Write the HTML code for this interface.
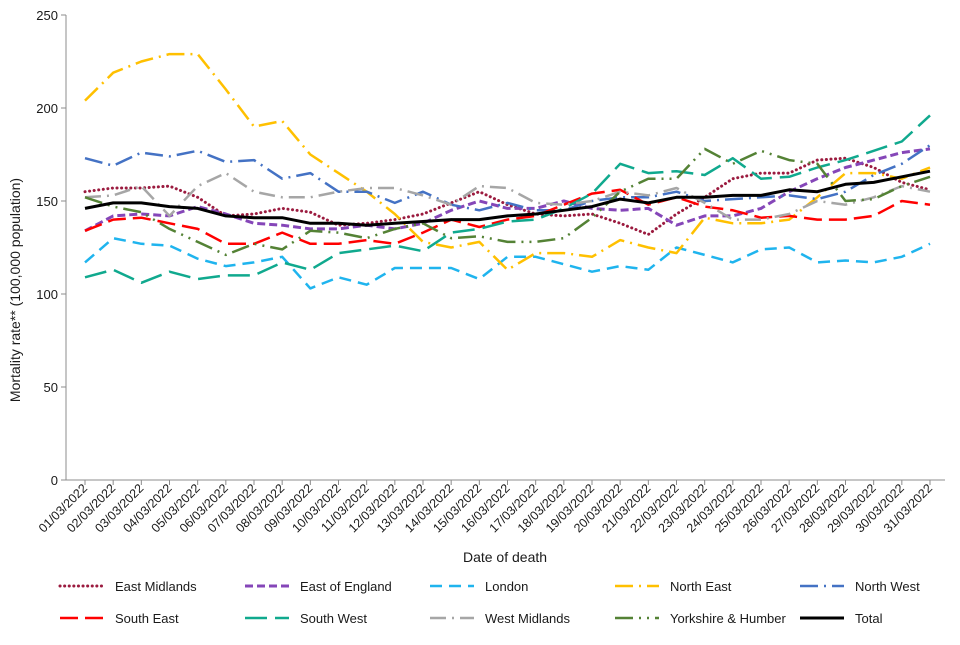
<!DOCTYPE html>
<html><head><meta charset="utf-8"><style>
body{margin:0;background:#fff;font-family:"Liberation Sans",Arial,sans-serif}
svg text{font-family:"Liberation Sans",Arial,sans-serif;fill:#1a1a1a}
</style></head><body>
<svg id="chart" width="960" height="640" viewBox="0 0 960 640"></svg>
<script>
const categories=[];for(let d=1;d<=31;d++)categories.push((d<10?'0':'')+d+'/03/2022');
const yTicks=[0,50,100,150,200,250];
const eastMidlands=[155,157,157,158,152,142,143,146,144,137,138,140,143,149,155,148,143,142,143,138,132,143,152,162,165,165,172,173,168,160,156];
const eastOfEngland=[134,142,143,142,147,143,138,137,135,135,137,135,138,145,150,146,146,150,146,145,146,137,142,142,146,155,162,168,172,176,178];
const london=[117,130,127,126,119,115,117,120,103,109,105,114,114,114,108,120,120,116,112,115,113,125,121,117,124,125,117,118,117,120,127];
const northEast=[204,219,225,229,229,210,190,193,175,165,155,143,128,125,128,113,122,122,120,129,125,122,141,138,138,140,152,165,165,162,168];
const northWest=[173,169,176,174,177,171,172,162,165,155,155,149,155,148,145,149,145,145,150,152,152,155,150,151,152,153,151,155,164,170,180];
const southEast=[134,140,141,138,135,127,127,133,127,127,129,127,133,140,136,140,142,148,154,156,148,152,147,145,141,142,140,140,142,150,148];
const southWest=[109,113,106,112,108,110,110,117,113,122,124,126,123,133,135,139,140,146,154,170,165,166,164,173,162,163,168,172,177,182,196];
const westMidlands=[152,153,158,142,158,165,155,152,152,155,157,157,153,148,158,157,149,148,150,155,153,157,149,140,140,143,150,148,152,158,155];
const yorkshire=[152,147,144,135,128,121,127,124,134,133,130,135,138,130,131,128,128,130,141,155,162,162,178,170,177,172,170,150,151,158,163];
const total=[146,149,149,147,146,142,141,141,138,138,137,138,139,140,140,142,143,145,147,151,149,152,152,153,153,156,155,159,160,163,166];
const series=[
 {name:'East Midlands',data:eastMidlands,color:'#9b1b3f',dash:'0.1,4.5',w:3,cap:'round'},
 {name:'East of England',data:eastOfEngland,color:'#8546b8',dash:'8,4',w:3},
 {name:'London',data:london,color:'#1fb4ee',dash:'12,7',w:2.5},
 {name:'North East',data:northEast,color:'#ffc000',dash:'18,6,2,6',w:2.5},
 {name:'North West',data:northWest,color:'#4472c4',dash:'18,6,2,6',w:2.5},
 {name:'South East',data:southEast,color:'#ff0000',dash:'18,7',w:2.5},
 {name:'South West',data:southWest,color:'#10a98e',dash:'22,8',w:2.5},
 {name:'West Midlands',data:westMidlands,color:'#a6a6a6',dash:'16,6,2,6',w:2.5},
 {name:'Yorkshire & Humber',data:yorkshire,color:'#548235',dash:'18,6,2,6,2,6',w:2.5},
 {name:'Total',data:total,color:'#000000',dash:'',w:3}
];
const NS='http://www.w3.org/2000/svg';
const svg=document.getElementById('chart');
const X0=66,X1=945,Y0=480,Y1=15;
const xs=i=>85+i*(930-85)/(categories.length-1);
const ys=v=>Y0-(v/250)*(Y0-Y1);
function mk(t,a,p){const e=document.createElementNS(NS,t);for(const k in a)e.setAttribute(k,a[k]);(p||svg).appendChild(e);return e;}
const yAxis=mk('line',{x1:X0,y1:Y1,x2:X0,y2:Y0,stroke:'#8c8c8c','stroke-width':1});


const xAxis=mk('line',{x1:X0,y1:Y0,x2:X1,y2:Y0,stroke:'#8c8c8c','stroke-width':1});


yTicks.forEach(v=>{
 mk('line',{x1:X0-5,y1:ys(v),x2:X0,y2:ys(v),stroke:'#8c8c8c'});
 const t=mk('text',{x:X0-8,y:ys(v)+5,'text-anchor':'end','font-size':13});t.textContent=v;
 
 
});
categories.forEach((c,i)=>{
 const x=xs(i);
 mk('line',{x1:x,y1:Y0,x2:x,y2:Y0+5,stroke:'#8c8c8c'});
 const t=mk('text',{x:x+3,y:Y0+9,'text-anchor':'end','font-size':12.5,transform:`rotate(-45 ${x+3} ${Y0+9})`});t.textContent=c;
 
 
});
const yt=mk('text',{x:20,y:290,'text-anchor':'middle','font-size':14,transform:'rotate(-90 20 290)'});yt.textContent='Mortality rate** (100,000 population)';


const xt=mk('text',{x:505,y:562,'text-anchor':'middle','font-size':14});xt.textContent='Date of death';


series.forEach((s,k)=>{
 const d=s.data.map((v,i)=>(i?'L':'M')+xs(i).toFixed(1)+','+ys(v).toFixed(1)).join('');
 const p=mk('path',{d:d,fill:'none',stroke:s.color,'stroke-width':s.w,'stroke-dasharray':s.dash,'stroke-linecap':s.cap||'butt','stroke-linejoin':'round'});
 
 
 const row=Math.floor(k/5),col=k%5;
 const lx=60+col*185,ly=586+row*32;
 const g=mk('g',{});
 
 
 mk('line',{x1:lx,y1:ly,x2:lx+44,y2:ly,stroke:s.color,'stroke-width':s.w,'stroke-dasharray':s.dash,'stroke-linecap':s.cap||'butt'},g);
 const t=mk('text',{x:lx+55,y:ly+5,'font-size':13},g);t.textContent=s.name;
});
</script>
</body></html>
